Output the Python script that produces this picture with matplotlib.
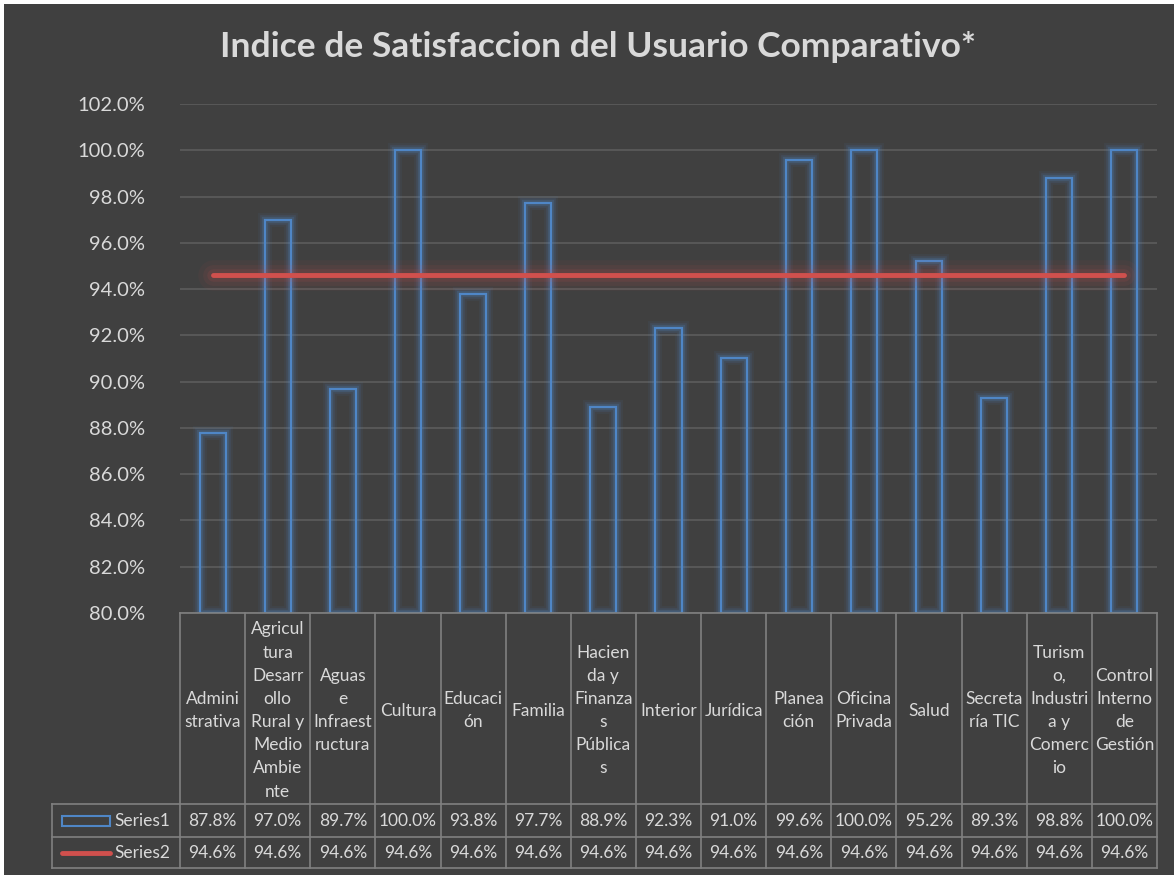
import matplotlib
matplotlib.use("Agg")
import matplotlib.pyplot as plt
from matplotlib.patches import Rectangle
import numpy as np

plt.rcParams['font.family'] = ['Lato', 'DejaVu Sans']

# ---------------- data ----------------
title = "Indice de Satisfaccion del Usuario Comparativo*"
categories = [
    "Admini\nstrativa",
    "Agricul\ntura\nDesarr\nollo\nRural y\nMedio\nAmbie\nnte",
    "Aguas\ne\nInfraest\nructura",
    "Cultura",
    "Educaci\nón",
    "Familia",
    "Hacien\nda y\nFinanza\ns\nPública\ns",
    "Interior",
    "Jurídica",
    "Planea\nción",
    "Oficina\nPrivada",
    "Salud",
    "Secreta\nría TIC",
    "Turism\no,\nIndustri\na y\nComerc\nio",
    "Control\nInterno\nde\nGestión",
]
series1 = [87.8, 97.0, 89.7, 100.0, 93.8, 97.7, 88.9, 92.3, 91.0, 99.6, 100.0, 95.2, 89.3, 98.8, 100.0]
series2 = [94.6] * 15
series_names = ["Series1", "Series2"]
y_ticks = [80, 82, 84, 86, 88, 90, 92, 94, 96, 98, 100, 102]

# ---------------- style ----------------
BG = "#404040"
TXT = "#d9d9d9"
GRID = "#5a5a5a"
BORDER = "#808080"
BLUE = "#4f86c6"
RED = "#d0504d"

W, H = 1174, 875
fig = plt.figure(figsize=(W / 100, H / 100), dpi=100)
fig.patch.set_facecolor("white")
fig.add_artist(Rectangle((4 / W, 0), 1 - 4 / W, 1 - 4 / H, transform=fig.transFigure,
                         facecolor=BG, edgecolor="none", zorder=0))

def fx(px):
    return px / W

def fy(py):
    return 1 - py / H

PL, PR, PT, PB = 180, 1157, 104, 613
ax = fig.add_axes([fx(PL), fy(PB), fx(PR) - fx(PL), fy(PT) - fy(PB)])
ax.set_facecolor("none")
x = np.arange(len(categories))
ax.set_xlim(-0.5, len(categories) - 0.5)
ax.set_ylim(80, 102)
ax.set_yticks(y_ticks)
ax.set_yticklabels([f"{v:.1f}%" for v in y_ticks], color=TXT, fontsize=14.5)
ax.tick_params(axis="y", length=0, pad=25)
ax.set_xticks([])
for s in ax.spines.values():
    s.set_visible(False)
ax.grid(axis="y", color=GRID, linewidth=1.3, zorder=0)
ax.set_axisbelow(True)

# bars: hollow with glow
bw = 0.4
heights = np.array(series1) - 80
for lw, a in [(10, 0.07), (7, 0.12), (4.5, 0.2)]:
    ax.bar(x, heights, bottom=80, width=bw, facecolor="none", edgecolor=BLUE,
           linewidth=lw, alpha=a, zorder=2)
ax.bar(x, heights, bottom=80, width=bw, facecolor="none", edgecolor=BLUE,
       linewidth=1.6, zorder=3)

# average line with glow
for lw, a in [(22, 0.05), (15, 0.08), (9, 0.12)]:
    ax.plot(x, series2, color=RED, linewidth=lw, alpha=a, solid_capstyle="round", zorder=4)
ax.plot(x, series2, color=RED, linewidth=3.5, solid_capstyle="round", zorder=5)

fig.text(0.509, fy(47), title, ha="center", va="center", fontsize=25.5,
         fontweight="bold", color=TXT)

# ---------------- data table ----------------
TL, TB = 52, 868
unit = (PR - PL) / len(categories)
tax = fig.add_axes([fx(TL), fy(TB), fx(PR) - fx(TL), fy(PB) - fy(TB)])
tax.set_xlim(-0.5 - (PL - TL) / unit, len(categories) - 0.5)
tax.set_ylim(TB, PB)
tax.axis("off")
xmin = -0.5 - (PL - TL) / unit
r0, r1, r2, r3 = PB, 804, 837, TB
lc = dict(color=BORDER, linewidth=1.2, clip_on=False)
tax.plot([-0.5, len(categories) - 0.5], [r0, r0], **lc)
for yy in (r1, r2, r3):
    tax.plot([xmin, len(categories) - 0.5], [yy, yy], **lc)
tax.plot([xmin, xmin], [r1, r3], **lc)
for i in range(len(categories) + 1):
    tax.plot([i - 0.5, i - 0.5], [r0, r3], **lc)

FS = 12.5
for i, lab in enumerate(categories):
    tax.text(i, (r0 + r1) / 2 + 2, lab, ha="center", va="center", fontsize=FS,
             color=TXT, linespacing=1.55)
    tax.text(i, (r1 + r2) / 2, f"{series1[i]:.1f}%", ha="center", va="center",
             fontsize=FS, color=TXT)
    tax.text(i, (r2 + r3) / 2, f"{series2[i]:.1f}%", ha="center", va="center",
             fontsize=FS, color=TXT)

# legend keys
kx0 = xmin + 10 / unit
kx1 = xmin + 58 / unit
tax.add_patch(Rectangle((kx0, (r1 + r2) / 2 - 5), kx1 - kx0, 10, facecolor="none",
                        edgecolor=BLUE, linewidth=1.5, clip_on=False))
tax.plot([kx0, kx1], [(r2 + r3) / 2, (r2 + r3) / 2], color=RED, linewidth=3.5,
         solid_capstyle="round", clip_on=False)
tax.text(xmin + 62 / unit, (r1 + r2) / 2, series_names[0], ha="left", va="center",
         fontsize=FS, color=TXT)
tax.text(xmin + 62 / unit, (r2 + r3) / 2, series_names[1], ha="left", va="center",
         fontsize=FS, color=TXT)

fig.savefig("out.png", dpi=100, facecolor=fig.get_facecolor())
